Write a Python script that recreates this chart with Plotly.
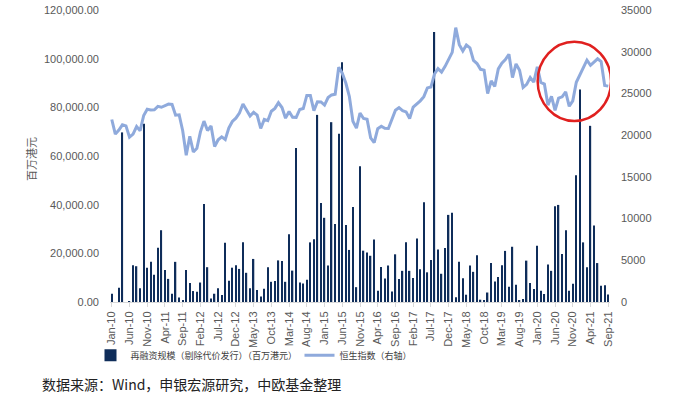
import plotly.graph_objects as go

months = ["Jan", "Feb", "Mar", "Apr", "May", "Jun", "Jul", "Aug", "Sep", "Oct", "Nov", "Dec"]
categories = [f"{m}-{y:02d}" for y in range(10, 22) for m in months][:141]
tick_labels = categories[::5]

refinancing = [
    3400, 0, 5850, 69700, 0, 300, 15100, 14700, 5700, 73300,
    14100, 16500, 11200, 22300, 29500, 13200, 9500, 3400, 16500, 1800,
    500, 13200, 7800, 4500, 4200, 8000, 40300, 14300, 1400, 3400,
    5600, 2900, 24400, 8700, 14100, 15100, 13600, 24600, 12000, 5700,
    17700, 4900, 2300, 5400, 14300, 8300, 8600, 17100, 16900, 8300,
    27800, 12900, 63300, 8000, 7600, 9100, 24500, 25800, 76900, 40700,
    34600, 15000, 73900, 32100, 69100, 98500, 31600, 21400, 39000, 6100,
    55800, 21100, 20300, 19000, 25700, 4600, 14400, 9700, 15000, 4350,
    19600, 9500, 12800, 24600, 12800, 9900, 26100, 13500, 41000, 12200,
    17300, 111000, 21600, 11600, 22200, 35800, 36700, 2000, 16500, 9800,
    3000, 15000, 12400, 19200, 950, 800, 3900, 16000, 8400, 10300,
    15100, 21000, 6300, 22700, 7100, 700, 1200, 17000, 7800, 5300,
    23100, 4600, 3300, 15400, 12800, 39300, 39900, 19700, 29500, 4600,
    7500, 52100, 87300, 24500, 14300, 72400, 31400, 16000, 6700, 6900,
    3100,
]

hsi = [
    21873,
    20122, 20609, 21239, 21108, 19765, 20129, 21030, 20536, 22359, 23096, 23007, 23035,
    23447, 23338, 23528, 23720, 23684, 22398, 22440, 20535, 17592, 19864, 17989, 18434,
    20390, 21680, 20556, 21095, 18630, 19441, 19796, 19482, 20840, 21642, 22030, 22657,
    23730, 23020, 22300, 22737, 22392, 20803, 21883, 21731, 22860, 23206, 23881, 23306,
    22035, 22837, 22151, 22134, 23082, 23191, 24757, 24742, 22933, 23998, 23987, 23605,
    24507, 24823, 24901, 28133, 27424, 26250, 24636, 21671, 20846, 22640, 21996, 21914,
    19683, 19112, 20777, 21067, 20815, 20794, 21891, 22977, 23297, 22935, 22790, 22001,
    23361, 23741, 24112, 24615, 25661, 25765, 27324, 27970, 27554, 28246, 29177, 29919,
    32887, 30845, 30093, 30808, 30469, 28955, 28583, 27889, 27789, 24980, 26507, 25846,
    27942, 28633, 29051, 29699, 26901, 28543, 27778, 25725, 26092, 26907, 26346, 28190,
    26313, 26130, 23603, 24644, 22961, 24427, 24595, 25177, 23459, 24107, 26341, 27231,
    28284, 28980, 28378, 28725, 29152, 28828, 25961, 25879,
]

bar_name = "再融资规模（剔除代价发行）（百万港元）"
line_name = "恒生指数（右轴）"
source_text = "数据来源：Wind，申银宏源研究，中欧基金整理"
y_title = "百万港元"

FONT = "Liberation Sans, Arial, Noto Sans CJK SC, sans-serif"
TICK = dict(family=FONT, size=11, color="#595959")

fig = go.Figure()
fig.add_trace(go.Bar(
    x=categories, y=refinancing, name=bar_name,
    marker=dict(color="#0F2D5A", line=dict(width=0)),
    yaxis="y",
))
fig.add_trace(go.Scatter(
    x=categories, y=hsi, name=line_name, mode="lines",
    line=dict(color="#8FAADC", width=3),
    yaxis="y2",
))

fig.update_layout(
    width=683, height=397,
    margin=dict(l=110, r=73, t=10, b=95, autoexpand=False),
    paper_bgcolor="white", plot_bgcolor="white",
    bargap=0.62,
    showlegend=True,
    legend=dict(
        orientation="h", x=-0.039, xanchor="left", y=-0.133, yanchor="top",
        bgcolor="rgba(0,0,0,0)",
        font=dict(family="Noto Sans CJK SC, " + FONT, size=9, color="#404040"),
        itemwidth=30, tracegroupgap=0, entrywidth=164, entrywidthmode="pixels",
    ),
    xaxis=dict(
        type="category", categoryorder="array", categoryarray=categories,
        tickmode="array", tickvals=tick_labels, ticktext=tick_labels,
        tickangle=-90, tickfont=TICK,
        showgrid=False, showline=True, linecolor="#D9D9D9", linewidth=1,
        ticks="outside", ticklen=4, tickcolor="#D9D9D9",
        range=[-0.5, 140.5], automargin=False,
    ),
    yaxis=dict(
        range=[0, 120000], tickvals=[0, 20000, 40000, 60000, 80000, 100000, 120000],
        tickformat=",.2f", tickfont=TICK, showgrid=False, zeroline=False,
        ticklabelstandoff=10, automargin=False, ticklabeloverflow="allow",
    ),
    yaxis2=dict(
        range=[0, 35000], tickvals=[0, 5000, 10000, 15000, 20000, 25000, 30000, 35000],
        tickformat="d", tickfont=TICK, showgrid=False, zeroline=False,
        overlaying="y", side="right", ticklabelstandoff=10, automargin=False,
        ticklabeloverflow="allow",
    ),
    annotations=[
        dict(text=y_title, xref="paper", yref="paper", x=-0.178, y=0.49,
             textangle=-90, showarrow=False,
             font=dict(family="Noto Sans CJK SC", size=11, color="#595959")),
        dict(text=source_text, xref="paper", yref="paper", x=-0.14, y=-0.28,
             xanchor="left", yanchor="middle", showarrow=False,
             font=dict(family="Noto Sans CJK SC", size=14, color="#222222")),
    ],
    shapes=[
        dict(type="circle", xref="x", yref="y2",
             x0=120.1, x1=140.8, y0=21700, y1=31200,
             line=dict(color="#E0201F", width=2.5)),
    ],
)

fig.write_html("out.html", config={"displayModeBar": False},
               post_script="document.body.style.margin='0';")
